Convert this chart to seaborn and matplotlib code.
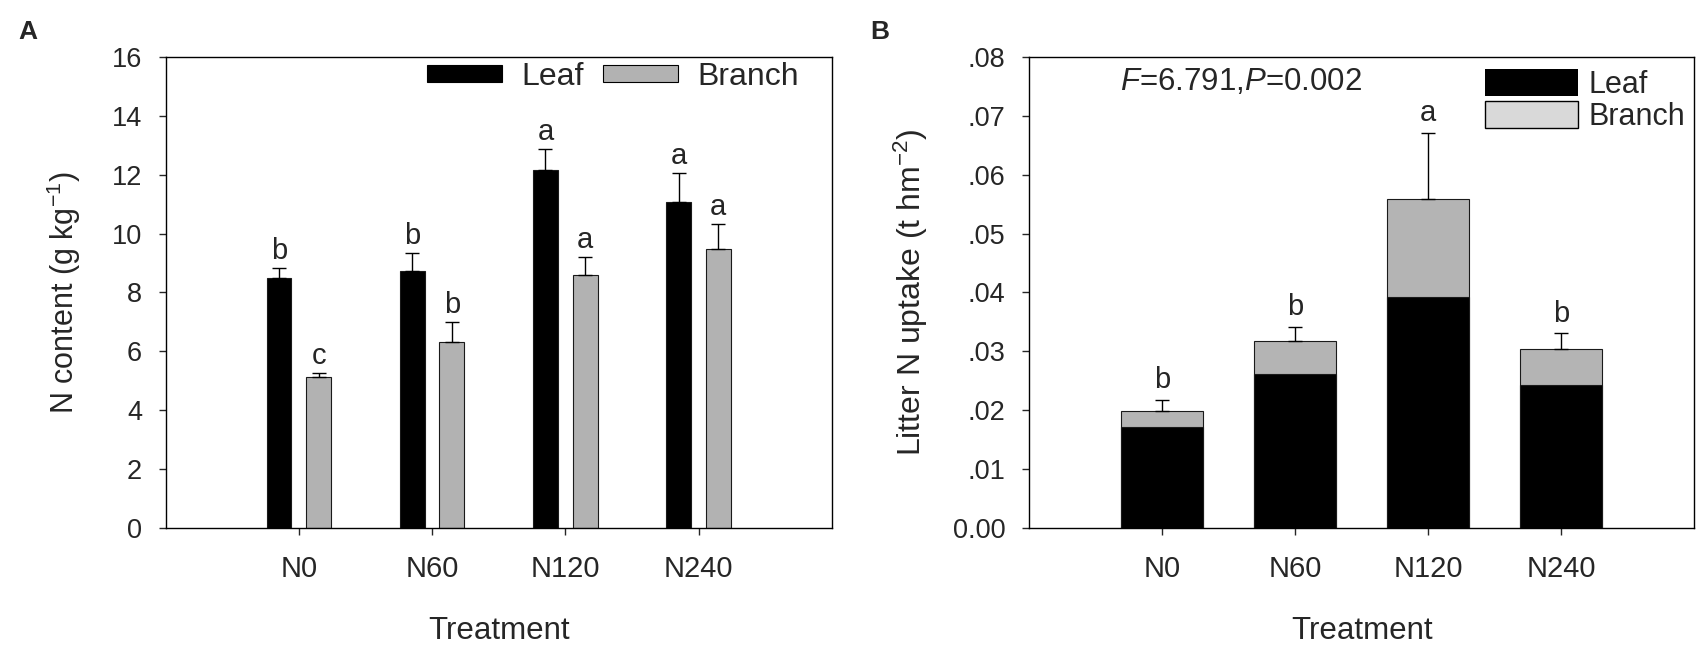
import matplotlib
matplotlib.use("Agg")
import matplotlib.pyplot as plt
import pandas as pd
import seaborn as sns
from matplotlib.patches import Patch

treatments = ["N0", "N60", "N120", "N240"]

# panel A - N content of litter
leaf_n = [8.49, 8.74, 12.16, 11.07]
leaf_n_se = [0.34, 0.60, 0.71, 0.99]
branch_n = [5.12, 6.33, 8.59, 9.47]
branch_n_se = [0.13, 0.66, 0.63, 0.87]
leaf_n_letters = ["b", "b", "a", "a"]
branch_n_letters = ["c", "b", "a", "a"]
a_yticks = [0, 2, 4, 6, 8, 10, 12, 14, 16]

# panel B - litter N uptake, stacked leaf + branch
leaf_up = [0.0172, 0.0262, 0.0393, 0.0242]
branch_up = [0.0027, 0.0056, 0.0166, 0.0062]
total_up_se = [0.0019, 0.0024, 0.0113, 0.0027]
uptake_letters = ["b", "b", "a", "b"]
b_yticks = [0, 0.01, 0.02, 0.03, 0.04, 0.05, 0.06, 0.07, 0.08]
b_yticklabels = ["0.00", ".01", ".02", ".03", ".04", ".05", ".06", ".07", ".08"]

sns.set_style("ticks")
plt.rcParams["font.family"] = ["Liberation Sans", "DejaVu Sans"]
plt.rcParams["mathtext.fontset"] = "custom"
plt.rcParams["mathtext.rm"] = "Liberation Sans"
plt.rcParams["mathtext.it"] = "Liberation Sans:italic"
plt.rcParams["axes.linewidth"] = 1.0

YTICK_FS = 19.5
XTICK_FS = 21
LABEL_FS = 22.5
LETTER_FS = 21

fig = plt.figure(figsize=(17.04, 6.5), dpi=100)
axA = fig.add_axes([0.0972, 0.1882, 0.3909, 0.7236])
axB = fig.add_axes([0.6039, 0.1882, 0.3904, 0.7236])


def style_axis(ax):
    for s in ax.spines.values():
        s.set_visible(True)
        s.set_color("black")
        s.set_linewidth(1.0)
    ax.tick_params(axis="y", direction="out", length=5, width=1, pad=12,
                   labelsize=YTICK_FS, right=False, left=True)
    ax.tick_params(axis="x", direction="out", length=5, width=1, pad=15,
                   labelsize=XTICK_FS, top=False, bottom=True)
    ax.set_xlim(-1, 4)


# ---- panel A ----
dfA = pd.DataFrame({
    "Treatment": treatments * 2,
    "value": leaf_n + branch_n,
    "part": ["Leaf"] * 4 + ["Branch"] * 4,
})
sns.barplot(data=dfA, x="Treatment", y="value", hue="part",
            hue_order=["Leaf", "Branch"], order=treatments,
            palette={"Leaf": "black", "Branch": "#b2b2b2"},
            width=0.596, gap=0.371, edgecolor="#1a1a1a", linewidth=0.8,
            errorbar=None, legend=False, ax=axA)

for cont, errs, letters in zip(axA.containers[:2], [leaf_n_se, branch_n_se],
                               [leaf_n_letters, branch_n_letters]):
    xs = [b.get_x() + b.get_width() / 2 for b in cont]
    ys = [b.get_height() for b in cont]
    axA.errorbar(xs, ys, yerr=[[0] * 4, errs], fmt="none", ecolor="black",
                 elinewidth=1, capsize=5, capthick=1)
    for x, y, e, t in zip(xs, ys, errs, letters):
        axA.annotate(t, (x, y + e), xytext=(0, 6.5), textcoords="offset points",
                     ha="center", va="baseline", fontsize=LETTER_FS)

style_axis(axA)
axA.set_ylim(0, 16)
axA.set_yticks(a_yticks)
axA.set_xlabel("Treatment", fontsize=LABEL_FS)
axA.set_ylabel("N content (g kg$^{-1}$)", fontsize=22)
axA.xaxis.set_label_coords(0.5, -0.187)
axA.yaxis.set_label_coords(-0.124, 0.5)

hA = [Patch(facecolor="black", edgecolor="black", linewidth=0.8, label="Leaf"),
      Patch(facecolor="#b2b2b2", edgecolor="black", linewidth=0.8, label="Branch")]
axA.legend(handles=hA, loc="upper left", bbox_to_anchor=(0.393, 0.991),
           ncol=2, frameon=False, fontsize=23, handlelength=2.35,
           handleheight=0.44, handletextpad=0.58, columnspacing=0.62,
           borderpad=0, borderaxespad=0)

# ---- panel B ----
total_up = [l + b for l, b in zip(leaf_up, branch_up)]
sns.barplot(x=treatments, y=total_up, order=treatments, color="#b4b4b4",
            width=0.613, edgecolor="#1a1a1a", linewidth=0.8, errorbar=None,
            saturation=1, ax=axB)
sns.barplot(x=treatments, y=leaf_up, order=treatments, color="black",
            width=0.613, edgecolor="#1a1a1a", linewidth=0.8, errorbar=None,
            saturation=1, ax=axB)

tot_bars = axB.containers[0]
xs = [b.get_x() + b.get_width() / 2 for b in tot_bars]
ys = [b.get_height() for b in tot_bars]
axB.errorbar(xs, ys, yerr=[[0] * 4, total_up_se], fmt="none", ecolor="black",
             elinewidth=1, capsize=5, capthick=1)
for x, y, e, t in zip(xs, ys, total_up_se, uptake_letters):
    axB.annotate(t, (x, y + e), xytext=(0, 8), textcoords="offset points",
                 ha="center", va="baseline", fontsize=LETTER_FS)

style_axis(axB)
axB.set_ylim(0, 0.08)
axB.set_yticks(b_yticks)
axB.set_yticklabels(b_yticklabels)
axB.set_xlabel("Treatment", fontsize=LABEL_FS)
axB.set_ylabel("Litter N uptake (t hm$^{-2}$)", fontsize=23)
axB.xaxis.set_label_coords(0.5, -0.187)
axB.yaxis.set_label_coords(-0.149, 0.5)
axB.text(0.136, 0.948, "$\\mathit{F}$=6.791,$\\mathit{P}$=0.002",
         transform=axB.transAxes, ha="left", va="center", fontsize=LABEL_FS)

hB = [Patch(facecolor="black", edgecolor="black", linewidth=0, label="Leaf"),
      Patch(facecolor="#d9d9d9", edgecolor="black", linewidth=1, label="Branch")]
axB.legend(handles=hB, loc="upper left", bbox_to_anchor=(0.685, 0.976),
           frameon=False, fontsize=22, handlelength=3.04, handleheight=0.98,
           handletextpad=0.35, labelspacing=0.05, borderpad=0, borderaxespad=0)

fig.text(0.0106, 0.969, "A", fontsize=19, fontweight="bold", va="top", ha="left")
fig.text(0.5106, 0.969, "B", fontsize=19, fontweight="bold", va="top", ha="left")

fig.savefig("out.png", dpi=100)
